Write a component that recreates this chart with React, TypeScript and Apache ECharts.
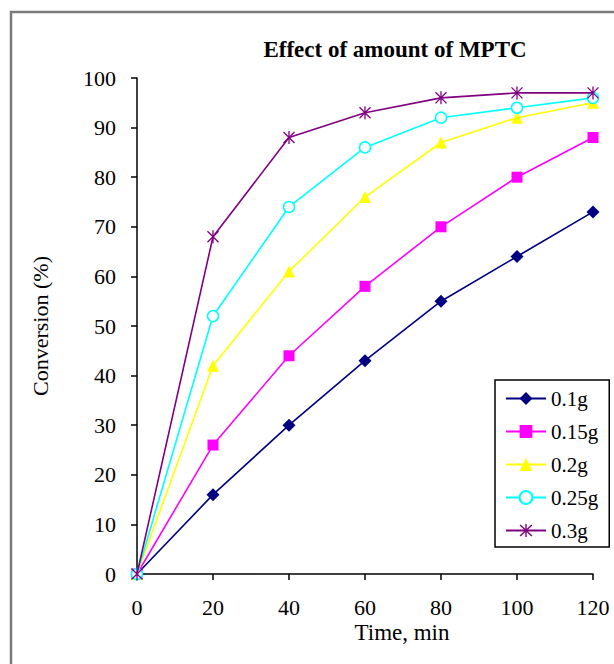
import React, { useEffect, useRef } from "react";
import * as echarts from "echarts";

const times = [0, 20, 40, 60, 80, 100, 120];
const seriesNames = ["0.1g", "0.15g", "0.2g", "0.25g", "0.3g"];
const s01 = [0, 16, 30, 43, 55, 64, 73];
const s015 = [0, 26, 44, 58, 70, 80, 88];
const s02 = [0, 42, 61, 76, 87, 92, 95];
const s025 = [0, 52, 74, 86, 92, 94, 96];
const s03 = [0, 68, 88, 93, 96, 97, 97];
const colors = ["#000080", "#FF00FF", "#FFFF00", "#00FFFF", "#800080"];

const asterisk =
  "path://M-0.1,-1 L0.1,-1 L0.1,1 L-0.1,1 Z M-0.78,-0.92 L0.92,0.78 L0.78,0.92 L-0.92,-0.78 Z M0.78,-0.92 L0.92,-0.78 L-0.78,0.92 L-0.92,0.78 Z";

const FONT = "Liberation Serif";

export default function App() {
  const ref = useRef<HTMLDivElement>(null);
  useEffect(() => {
    const chart = echarts.init(ref.current!, null, { renderer: "svg" });
    const data = [s01, s015, s02, s025, s03];
    const symbols = ["diamond", "rect", "triangle", "circle", asterisk];
    const sizes = [13, 11, 12, 11, 13];
    const series = data.map((d, i) => ({
      name: seriesNames[i],
      type: "line",
      data: d.map((v, j) => [times[j], v]),
      symbol: symbols[i],
      symbolSize: sizes[i],
      symbolKeepAspect: true,
      lineStyle: { color: colors[i], width: 1.6 },
      itemStyle: {
        color: i === 3 ? "#ffffff" : colors[i],
        borderColor: colors[i],
        borderWidth: i === 3 ? 1.5 : 0,
      },
      z: 2 + i,
    }));
    chart.setOption({
      animation: false,
      backgroundColor: "#ffffff",
      grid: { left: 137, right: 21, top: 78, bottom: 90 },
      graphic: [
        {
          type: "rect",
          shape: { x: 11, y: 12, width: 700, height: 700 },
          style: { fill: "none", stroke: "#7a7a7a", lineWidth: 2.5 },
          z: 0,
        },
        {
          type: "text",
          x: 395,
          y: 49,
          style: {
            text: "Effect of amount of MPTC",
            font: "bold 23px 'Liberation Serif'",
            fill: "#000",
            align: "center",
            verticalAlign: "middle",
          },
        },
        {
          type: "text",
          x: 402,
          y: 632,
          style: {
            text: "Time, min",
            font: "23px 'Liberation Serif'",
            fill: "#000",
            align: "center",
            verticalAlign: "middle",
          },
        },
      ],
      legend: {
        orient: "vertical",
        left: 495,
        top: 380,
        padding: [8, 11, 6, 10],
        itemGap: 12,
        itemWidth: 40,
        itemHeight: 16,
        borderColor: "#000",
        borderWidth: 1.5,
        backgroundColor: "#fff",
        textStyle: { fontFamily: FONT, fontSize: 21, color: "#000", lineHeight: 21 },
        data: seriesNames,
      },
      xAxis: {
        type: "value",
        min: 0,
        max: 120,
        interval: 20,
        axisLine: { show: true, lineStyle: { color: "#000", width: 1.5 } },
        axisTick: { show: true, inside: false, length: 6, lineStyle: { color: "#000", width: 1.5 } },
        axisLabel: { fontFamily: FONT, fontSize: 22, color: "#000", margin: 22 },
        splitLine: { show: false },
      },
      yAxis: {
        type: "value",
        min: 0,
        max: 100,
        interval: 10,
        name: "Conversion (%)",
        nameLocation: "middle",
        nameGap: 86,
        nameRotate: 90,
        nameTextStyle: { fontFamily: FONT, fontSize: 22, color: "#000" },
        axisLine: { show: true, lineStyle: { color: "#000", width: 1.5 } },
        axisTick: { show: true, inside: false, length: 6, lineStyle: { color: "#000", width: 1.5 } },
        axisLabel: { fontFamily: FONT, fontSize: 22, color: "#000", margin: 21 },
        splitLine: { show: false },
      },
      series,
    });
    return () => chart.dispose();
  }, []);
  return (
    <div
      ref={ref}
      style={{ position: "absolute", left: 0, top: 0, width: 614, height: 664, overflow: "hidden" }}
    />
  );
}
